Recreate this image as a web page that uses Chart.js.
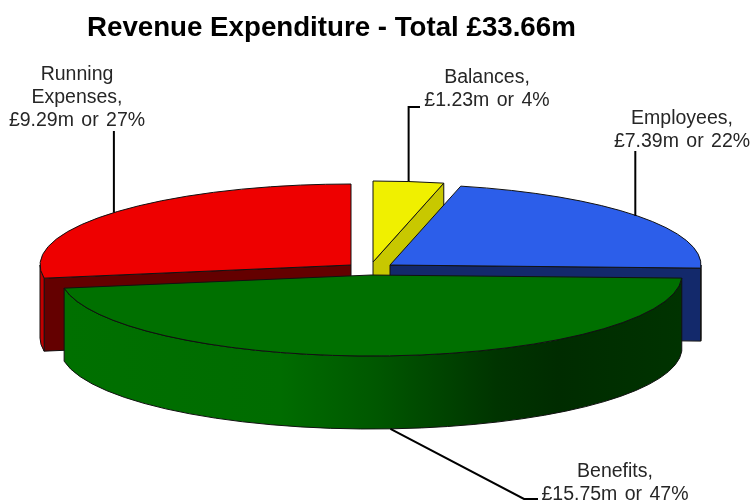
<!DOCTYPE html>
<html>
<head>
<meta charset="utf-8">
<title>Revenue Expenditure</title>
<script src="https://cdn.jsdelivr.net/npm/chart.js@4"></script>
<style>
    html, body { margin: 0; padding: 0; background: #fff; }
    canvas { display: block; }
</style>
</head>
<body>
<canvas id="myPieChart" width="752" height="502"></canvas>
<script>
// Data
var titleText = "Revenue Expenditure - Total £33.66m";
var categories = ["Balances", "Employees", "Benefits", "Running Expenses"];
var valuesMillions = [1.23, 7.39, 15.75, 9.29];
var percents = [4, 22, 47, 27];

// Slice look
var topColors = ["#f0f000", "#2c5eea", "#007000", "#ee0000"];
var cutColors = ["#c8c800", "#13296b", "#003000", "#640000"];
var rimColors = ["#c8c800", "#13296b", null, "#c00000"];

// Flattened pie geometry, one entry per slice (pulled-out centres)
var RX = 311, RY = 81, DEPTH = 73;
var centres = [
    { x: 373, y: 262 },
    { x: 390, y: 265 },
    { x: 371, y: 275 },
    { x: 351, y: 265 }
];
// back slices first, the big front slice goes last
var drawOrder = [0, 1, 3, 2];

// Label text blocks and where their leader lines bend (null x = straight up from the slice)
var labelBlocks = [
    { x: 487, y: 83, lines: ["Balances,"], path: [[null, 107], [420, 107]] },
    { x: 682, y: 124, lines: ["Employees,"], dx: -2, path: [[null, 151]] },
    { x: 615, y: 477, lines: ["Benefits,"], path: [[524, 499], [538, 499]] },
    { x: 77, y: 80, lines: ["Running", "Expenses,"], path: [[null, 131]] }
];

function greenWallFill(ctx) {
    var g = ctx.createLinearGradient(65, 0, 682, 0);
    g.addColorStop(0, "#007000");
    g.addColorStop(0.35, "#006c00");
    g.addColorStop(0.5, "#005800");
    g.addColorStop(0.7, "#003400");
    g.addColorStop(0.8, "#002c00");
    g.addColorStop(1, "#003300");
    return g;
}

function drawRim(ctx, c, a0, a1, fill) {
    // only the front half of the rim can be seen
    var from = Math.max(a0, 0), to = Math.min(a1, Math.PI);
    if (to <= from) return;
    ctx.beginPath();
    ctx.ellipse(c.x, c.y, RX, RY, 0, from, to);
    ctx.ellipse(c.x, c.y + DEPTH, RX, RY, 0, to, from, true);
    ctx.closePath();
    ctx.fillStyle = fill;
    ctx.fill();
    ctx.stroke();
}

function drawCut(ctx, c, angle, fill) {
    var ex = c.x + RX * Math.cos(angle), ey = c.y + RY * Math.sin(angle);
    ctx.beginPath();
    ctx.moveTo(c.x, c.y);
    ctx.lineTo(ex, ey);
    ctx.lineTo(ex, ey + DEPTH);
    ctx.lineTo(c.x, c.y + DEPTH);
    ctx.closePath();
    ctx.fillStyle = fill;
    ctx.fill();
    ctx.stroke();
}

var pie3d = {
    id: "pie3d",
    beforeDatasetDraw: function (chart) {
        var ctx = chart.ctx;
        var arcs = chart.getDatasetMeta(0).data;
        ctx.save();
        ctx.lineWidth = 1;
        ctx.strokeStyle = "#111";
        ctx.lineJoin = "round";
        drawOrder.forEach(function (i) {
            var arc = arcs[i], c = centres[i];
            if (Math.cos(arc.endAngle) > 0.01) drawCut(ctx, c, arc.endAngle, cutColors[i]);
            if (Math.cos(arc.startAngle) < -0.01) drawCut(ctx, c, arc.startAngle, cutColors[i]);
            drawRim(ctx, c, arc.startAngle, arc.endAngle, rimColors[i] || greenWallFill(ctx));

            // top face is the library's own arc, squashed into place
            ctx.save();
            ctx.translate(c.x, c.y);
            ctx.scale(RX / arc.outerRadius, RY / arc.outerRadius);
            ctx.translate(-arc.x, -arc.y);
            arc.draw(ctx);
            ctx.restore();

            ctx.beginPath();
            ctx.moveTo(c.x, c.y);
            ctx.ellipse(c.x, c.y, RX, RY, 0, arc.startAngle, arc.endAngle);
            ctx.closePath();
            ctx.stroke();
        });
        ctx.restore();
        return false;
    },
    afterDraw: function (chart) {
        var ctx = chart.ctx;
        var arcs = chart.getDatasetMeta(0).data;
        ctx.save();
        arcs.forEach(function (arc, i) {
            var c = centres[i], block = labelBlocks[i];
            var mid = (arc.startAngle + arc.endAngle) / 2;
            var sx = c.x + RX * Math.cos(mid) + (block.dx || 0);
            var sy = c.y + RY * Math.sin(mid);
            // the benefits leader leaves from the bottom of the front wall
            if (Math.sin(mid) > 0.5) sy += DEPTH;

            ctx.beginPath();
            ctx.moveTo(sx, sy);
            block.path.forEach(function (p) { ctx.lineTo(p[0] === null ? sx : p[0], p[1]); });
            ctx.lineWidth = 2;
            ctx.strokeStyle = "#000";
            ctx.stroke();

            var lines = block.lines.concat("£" + valuesMillions[i].toFixed(2) + "m or " + percents[i] + "%");
            ctx.font = "19.5px 'Liberation Sans', Arial, sans-serif";
            ctx.fillStyle = "#262626";
            ctx.textAlign = "center";
            ctx.textBaseline = "alphabetic";
            ctx.wordSpacing = "2px";
            lines.forEach(function (line, n) {
                ctx.fillText(line, block.x, block.y + n * 23);
            });
        });
        ctx.restore();
    }
};

document.addEventListener("DOMContentLoaded", function () {
    new Chart(document.getElementById("myPieChart"), {
        type: "pie",
        data: {
            labels: categories,
            datasets: [{
                data: valuesMillions,
                backgroundColor: topColors,
                borderWidth: 0
            }]
        },
        options: {
            responsive: false,
            animation: false,
            layout: { padding: { left: 87 } },
            plugins: {
                legend: { display: false },
                tooltip: { enabled: false },
                title: {
                    display: true,
                    text: titleText,
                    align: "start",
                    color: "#000",
                    font: { family: "'Liberation Sans', Arial, sans-serif", size: 27.7, weight: "bold" },
                    padding: { top: 12, bottom: 10 }
                }
            }
        },
        plugins: [pie3d]
    });
});
</script>
</body>
</html>
